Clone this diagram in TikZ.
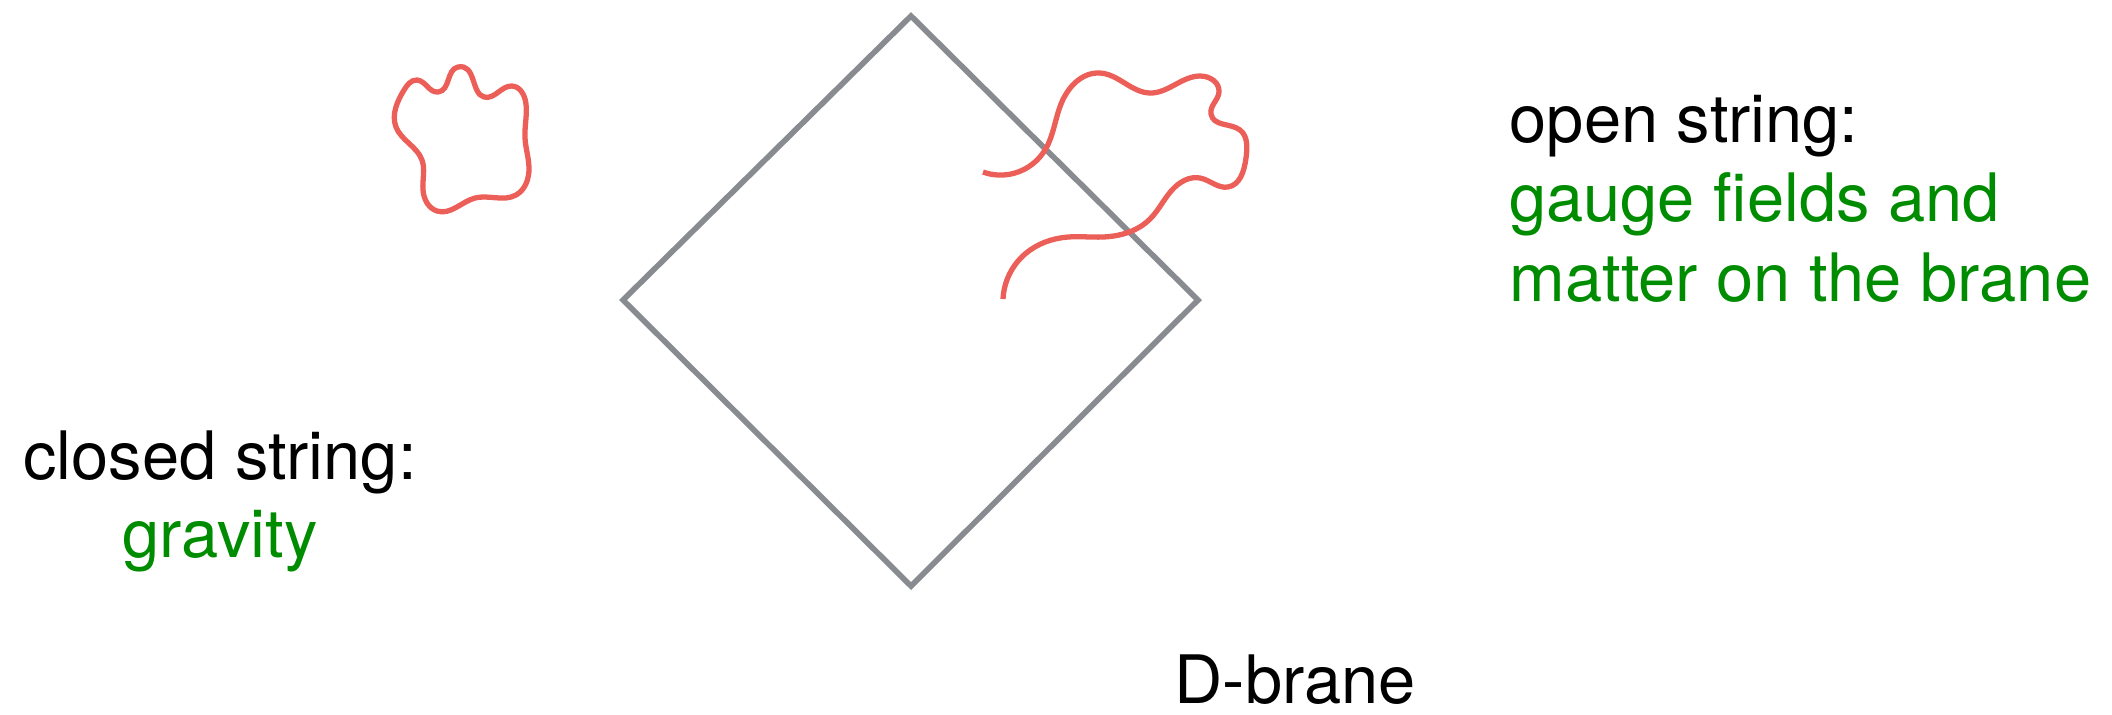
\documentclass[tikz,border=0pt]{standalone}
\usepackage{fontspec}
\setmainfont{TeX Gyre Heros}
\usepackage{xcolor}
\usepackage{tikz}
\usetikzlibrary{hobby}
\definecolor{branegray}{RGB}{136,139,143}
\definecolor{strred}{RGB}{236,94,88}
\definecolor{fieldgreen}{RGB}{0,140,0}

\begin{document}
\begin{tikzpicture}[x=0.01cm,y=-0.01cm,
  brane/.style={branegray,line width=1.6pt},
  str/.style={strred,line width=1.5pt,use Hobby shortcut},
  lbl/.style={inner sep=0pt,font=\fontsize{19}{22}\selectfont}]
\useasboundingbox (0,0) rectangle (2112,714);
\draw[brane](911,16)--(1198,300)--(911,586)--(623,300)--cycle;
% closed string
\draw[str,closed=true](458,67)..(484,97)..(512,86)..(526,104)..(525,138)..(529,168)..(516,195)..(475,198)..(437,211)..(423,190)..(422,160)..(396,127)..(404,90)..(417,80)..(438,92)..(458,67);
% open string
\draw[str](983,172)..(1015,173)..(1045,150)..(1061,104)..(1100,73)..(1150,93)..(1200,76)..(1219,92)..(1211,114)..(1240,130)..(1246,158)..(1228,187)..(1200,178)..(1172,190)..(1150,219)..(1103,237)..(1068,237)..(1025,254)..(1003,299);
\node[lbl,anchor=base](closedlbl) at (220,479){closed string:};
\node[lbl,anchor=base,fieldgreen](gravlbl) at (220,557){gravity};
\node[lbl,anchor=base west](openlbl) at (1509,142){open string:};
\node[lbl,anchor=base west,fieldgreen](gaugelbl) at (1509,221){gauge fields and};
\node[lbl,anchor=base west,fieldgreen](matterlbl) at (1509,301){matter on the brane};
\node[lbl,anchor=base west](branelbl) at (1174,703){D-brane};
\end{tikzpicture}
\end{document}
